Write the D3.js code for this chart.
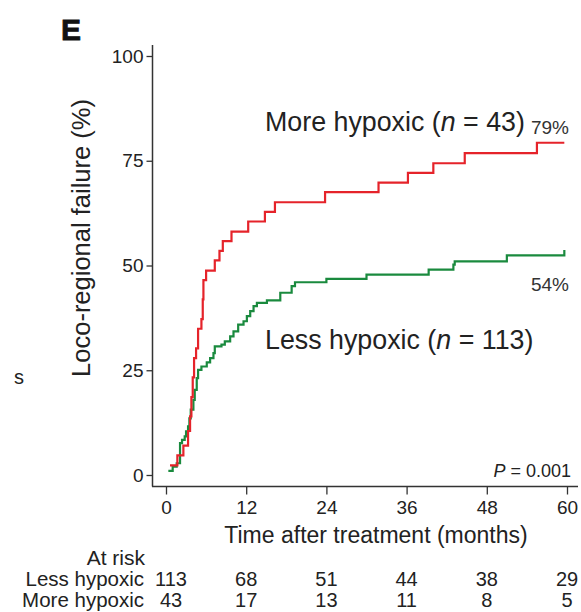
<!DOCTYPE html>
<html>
<head>
<meta charset="utf-8">
<script src="https://cdn.jsdelivr.net/npm/d3@7"></script>
<style>
  html, body { margin: 0; padding: 0; background: #fff; }
  svg { display: block; font-family: "Liberation Sans", Arial, Helvetica, sans-serif; }
</style>
</head>
<body>
<svg id="chart" width="581" height="612"></svg>
<script>
// tick labels
const monthTicks = [0, 12, 24, 36, 48, 60]
const pctTicks = [0, 25, 50, 75, 100]

// more hypoxic (n = 43): event times (months) and cumulative failure (%)
const moreTimes = [0.6, 1.7, 2.6, 3.3, 3.6, 3.8, 4.0, 4.2, 4.5, 4.8, 5.3, 5.5, 5.6, 6.0, 7.3, 8.0, 8.5, 9.8, 12.3, 14.8, 16.3, 23.8, 31.8, 36.2, 40.0, 44.7, 55.5]
const morePct = [2.3, 4.7, 7.0, 10.5, 14.0, 18.6, 23.3, 27.9, 30.2, 34.9, 37.2, 41.9, 46.5, 48.8, 51.2, 53.5, 55.8, 58.1, 60.5, 62.8, 65.1, 67.5, 69.8, 72.1, 74.4, 76.8, 79.3]

// less hypoxic (n = 113)
const lessTimes = [0.35, 1.0, 1.6, 2.1, 2.4, 2.8, 3.0, 3.3, 3.5, 3.7, 4.1, 4.3, 4.6, 4.8, 5.3, 6.1, 6.6, 7.1, 7.3, 8.3, 8.8, 9.6, 10.1, 10.8, 11.6, 12.1, 12.6, 13.1, 13.6, 15.1, 17.1, 18.8, 19.3, 24.0, 30.0, 39.3, 43.0, 43.2, 51.0, 59.6]
const lessPct = [1.0, 2.0, 2.8, 7.6, 8.4, 9.2, 10.4, 11.6, 13.5, 15.6, 17.9, 20.3, 23.1, 25.1, 25.9, 26.9, 27.9, 29.1, 30.7, 31.1, 31.9, 33.1, 34.3, 35.9, 36.7, 37.9, 39.1, 40.3, 41.1, 41.7, 43.5, 45.1, 46.0, 46.8, 47.8, 49.0, 50.2, 51.0, 52.4, 53.7]

const lastFollowUp = 59.6

// numbers at risk
const riskGroups = ['Less hypoxic', 'More hypoxic']
const riskLess = [113, 68, 51, 44, 38, 29]
const riskMore = [43, 17, 13, 11, 8, 5]

const svg = d3.select('#chart')

const x = d3.scaleLinear().domain([0, 60]).range([166, 567])
const y = d3.scaleLinear().domain([0, 100]).range([475, 56])

const axisColor = '#333'
const textColor = '#222'

// panel letter and stray glyph from neighbouring panel
svg.append('text').attr('x', 61).attr('y', 40)
	.attr('font-size', 30).attr('font-weight', 'bold').attr('fill', '#111')
	.attr('stroke', '#111').attr('stroke-width', 0.8).text('E')
svg.append('text').attr('x', 14).attr('y', 384)
	.attr('font-size', 20).attr('fill', textColor).text('s')

// y axis
const yAxis = svg.append('g').attr('transform', 'translate(152.5,0)')
	.call(d3.axisLeft(y).tickValues(pctTicks).tickSize(6).tickPadding(3))
yAxis.select('.domain').remove()
yAxis.append('line').attr('x1', 0).attr('x2', 0).attr('y1', 45).attr('y2', 486.5)
	.attr('stroke', axisColor).attr('stroke-width', 1.5)
yAxis.selectAll('.tick line').attr('stroke', axisColor).attr('stroke-width', 1.3)
yAxis.selectAll('.tick text').attr('font-size', 19).attr('fill', textColor)
	.attr('font-family', null)

// x axis
const xAxis = svg.append('g').attr('transform', 'translate(0,486.5)')
	.call(d3.axisBottom(x).tickValues(monthTicks).tickSize(8).tickPadding(6))
xAxis.select('.domain').remove()
xAxis.append('line').attr('x1', 152).attr('x2', 578).attr('y1', 0).attr('y2', 0)
	.attr('stroke', axisColor).attr('stroke-width', 1.5)
xAxis.selectAll('.tick line').attr('stroke', axisColor).attr('stroke-width', 1.3)
xAxis.selectAll('.tick text').attr('font-size', 19).attr('fill', textColor)
	.attr('font-family', null)

// axis titles
svg.append('text')
	.attr('transform', 'translate(90,238) rotate(-90)')
	.attr('text-anchor', 'middle').attr('font-size', 25.5).attr('fill', textColor)
	.text('Loco-regional failure (%)')
svg.append('text').attr('x', 376).attr('y', 543)
	.attr('text-anchor', 'middle').attr('font-size', 23).attr('fill', textColor)
	.text('Time after treatment (months)')

// curves
const stepLine = d3.line()
	.x(d => x(d[0]))
	.y(d => y(d[1]))
	.curve(d3.curveStepAfter)

function curvePoints (times, pcts) {
	const pts = times.map((t, i) => [t, pcts[i]])
	pts.push([lastFollowUp, pcts[pcts.length - 1]])
	return pts
}

svg.append('path')
	.attr('d', stepLine(curvePoints(lessTimes, lessPct)))
	.attr('fill', 'none').attr('stroke', '#1a8a3e').attr('stroke-width', 2.2)

svg.append('path')
	.attr('d', stepLine(curvePoints(moreTimes, morePct)))
	.attr('fill', 'none').attr('stroke', '#e5232a').attr('stroke-width', 2.2)

// curve labels
const moreLabel = svg.append('text').attr('x', 265).attr('y', 131)
	.attr('font-size', 26.8).attr('fill', textColor)
moreLabel.append('tspan').text('More hypoxic (')
moreLabel.append('tspan').attr('font-style', 'italic').text('n')
moreLabel.append('tspan').text(' = 43)')

const lessLabel = svg.append('text').attr('x', 265).attr('y', 349)
	.attr('font-size', 26.8).attr('fill', textColor)
lessLabel.append('tspan').text('Less hypoxic (')
lessLabel.append('tspan').attr('font-style', 'italic').text('n')
lessLabel.append('tspan').text(' = 113)')

svg.append('text').attr('x', 569).attr('y', 134).attr('text-anchor', 'end')
	.attr('font-size', 19).attr('fill', '#333').text(Math.round(morePct[morePct.length - 1]) + '%')
svg.append('text').attr('x', 569).attr('y', 291).attr('text-anchor', 'end')
	.attr('font-size', 19).attr('fill', '#333').text(Math.round(lessPct[lessPct.length - 1]) + '%')

const pLabel = svg.append('text').attr('x', 571).attr('y', 477).attr('text-anchor', 'end')
	.attr('font-size', 18).attr('fill', textColor)
pLabel.append('tspan').attr('font-style', 'italic').text('P')
pLabel.append('tspan').text(' = 0.001')

// at-risk table
svg.append('text').attr('x', 145).attr('y', 565).attr('text-anchor', 'end')
	.attr('font-size', 21).attr('fill', textColor).text('At risk')

const riskRows = [riskLess, riskMore]
const rowY = [586, 607]
riskRows.forEach((row, r) => {
	svg.append('text').attr('x', 144).attr('y', rowY[r]).attr('text-anchor', 'end')
		.attr('font-size', 20.5).attr('fill', textColor).text(riskGroups[r])
	svg.append('g').selectAll('text')
		.data(row)
		.join('text')
		.attr('x', (d, i) => x(monthTicks[i]) + (i === 0 ? 5 : 0))
		.attr('y', rowY[r])
		.attr('text-anchor', 'middle')
		.attr('font-size', 20)
		.attr('fill', textColor)
		.text(d => d)
})
</script>
</body>
</html>
